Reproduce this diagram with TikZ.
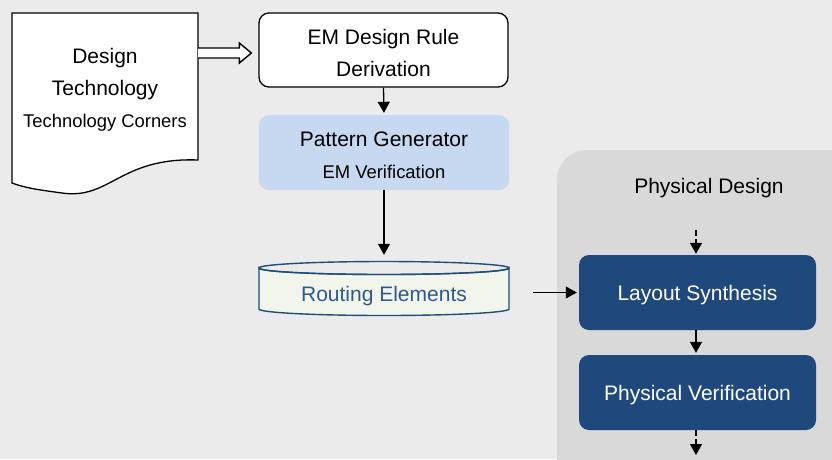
\documentclass[tikz,border=0pt]{standalone}
\usepackage{fontspec}
\setmainfont{Liberation Sans}
\usetikzlibrary{arrows.meta,calc}
\definecolor{bgc}{HTML}{EBEBEB}
\definecolor{pdgray}{HTML}{D9D9D9}
\definecolor{patblue}{HTML}{C6D9F0}
\definecolor{darkblue}{HTML}{1F497D}
\definecolor{cylfill}{HTML}{F1F5EC}
\definecolor{cylline}{HTML}{1F4E79}
\definecolor{cyltext}{HTML}{2E5A8C}
\newcommand{\topstrut}{\rule{0pt}{20.5pt}}
\tikzset{
  big/.style={font=\fontsize{21}{32}\selectfont},
  rulebox/.style={draw=black, line width=1.3pt, fill=white, rounded corners=10pt,
    minimum width=249pt, minimum height=74pt, align=center, inner sep=0pt, big},
  patbox/.style={fill=patblue, rounded corners=10pt, minimum width=250pt,
    minimum height=75pt, align=center, inner sep=0pt, big},
  bluebox/.style={fill=darkblue, rounded corners=10pt, minimum width=237pt,
    minimum height=75pt, inner sep=0pt, text=white, big, text depth=0pt},
  arr/.style={line width=1.3pt, -{Triangle[length=11pt,width=12pt]}},
  dasharr/.style={arr, dash pattern=on 6pt off 3pt},
}
\begin{document}
\begin{tikzpicture}[x=1pt,y=-1pt]
% canvas
\fill[bgc] (0,0) rectangle (832,459);
\useasboundingbox (0,0) rectangle (832,459);

% physical design container, running off the canvas edges
\begin{scope}
  \clip (0,0) rectangle (832,459);
  \fill[pdgray, rounded corners=30pt] (557,150) rectangle (880,500);
\end{scope}
\node[big, text depth=0pt] (pdtitle) at (709,186) {Physical Design};

% input document
\node[minimum width=186pt, minimum height=170pt, inner sep=0pt] (doc) at (105,98) {};
\draw[line width=1.3pt, fill=white] (12,13) -- (198,13) -- (198,160)
  .. controls (120,157) and (110,200) .. (62,193)
  .. controls (40,190) and (25,188) .. (12,183) -- cycle;
\node[align=center, big, text depth=0pt] (doctext) at (105,88)
  {Design\\Technology\\{\fontsize{18.4}{32}\selectfont Technology Corners}};

% rule derivation and pattern generation
\node[rulebox] (rule) at (383.5,50) {\topstrut EM Design Rule\\Derivation};
\node[patbox] (pat) at (384,152.5)
  {\topstrut Pattern Generator\\{\fontsize{18.4}{32}\selectfont EM Verification}};

% routing elements database
\node[minimum width=250pt, minimum height=54pt, inner sep=0pt] (routing) at (384,289) {};
\draw[cylline, line width=1.4pt, fill=cylfill]
  (259,268) -- (259,309) arc (180:0:125 and 6.5) -- (509,268) arc (0:180:125 and 6.5) -- cycle;
\draw[cylline, line width=1.4pt] (384,268) ellipse (125 and 6.5);
\node[big, text=cyltext, text depth=0pt] (routingtext) at (384,294) {Routing Elements};

% physical design steps
\node[bluebox] (layout) at (697.5,292.5) {Layout Synthesis};
\node[bluebox] (phys) at (697.5,392.5) {Physical Verification};

% connectors
\coordinate (docout) at (198,53);
\coordinate (docin) at ($(docout -| rule.west)+(-7,0)$);
\draw[line width=1.4pt, fill=white, line join=miter]
  ($(docout)+(0,-5)$) -- ($(docin)+(-12,-5)$) -- ($(docin)+(-12,-10)$) -- (docin)
  -- ($(docin)+(-12,10)$) -- ($(docin)+(-12,5)$) -- ($(docout)+(0,5)$);
\draw[arr, shorten >=2pt] (rule.south) -- (pat.north);
\draw[arr, shorten >=7pt] (pat.south) -- (routing.north);
\draw[arr, shorten >=2pt] ([xshift=24pt]routing.east |- layout.west) -- (layout.west);
\coordinate (pdin) at (696,230);
\coordinate (pdout) at (696,455);
\draw[dasharr, shorten >=1pt] (pdin) -- (pdin |- layout.north);
\draw[arr, shorten >=2pt] (layout.south -| pdin) -- (phys.north -| pdin);
\draw[dasharr] (phys.south -| pdin) -- (pdout);
\end{tikzpicture}
\end{document}
